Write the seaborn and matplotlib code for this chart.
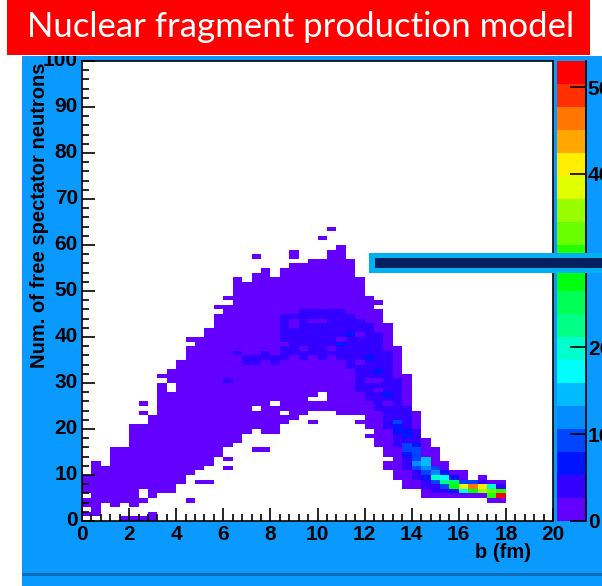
import colorsys

import matplotlib
matplotlib.use("Agg")
import matplotlib.pyplot as plt
import matplotlib.patches as mpatches
from matplotlib.lines import Line2D
from matplotlib.colors import ListedColormap, BoundaryNorm
from matplotlib.colorbar import ColorbarBase
import numpy as np
import pandas as pd
import seaborn as sns

# ---------------------------------------------------------------- data
# 2D histogram: impact parameter b (50 bins, 0-20 fm) vs number of free
# spectator neutrons (100 bins, 0-100).  Column index c <-> b bin, row j <-> N bin.
B_EDGES = np.linspace(0.0, 20.0, 51)
N_EDGES = np.arange(0, 101)

# populated band per b column (lowest / highest filled N bin), columns 0..44
band_lo = [2, 2, 3, 3, 3, 3, 4, 5, 6, 6, 8, 10, 11, 12, 14, 16, 17, 19, 20, 19,
           19, 21, 22, 23, 24, 24, 24, 23, 23, 21, 18, 16, 12, 9, 7, 7, 5, 5, 5, 5,
           5, 5, 5, 4, 4]
band_hi = [9, 12, 11, 15, 15, 20, 20, 22, 29, 31, 34, 37, 39, 41, 44, 48, 51, 51, 53, 54,
           52, 54, 55, 55, 56, 56, 58, 59, 56, 52, 48, 45, 42, 37, 31, 23, 17, 15, 12, 10,
           10, 8, 9, 8, 8]

# denser core (3 counts), columns 15..39
core_first_col = 15
core_lo = [30, 36, 34, 34, 35, 34, 35, 36, 35, 36, 35, 36, 35, 33, 28, 26, 24, 20, 16, 11,
           9, 7, 6, 6, 6]
core_hi = [30, 36, 35, 35, 36, 35, 44, 44, 45, 45, 45, 45, 45, 44, 43, 42, 40, 36, 30, 24,
           19, 13, 11, 10, 9]
core_gaps = [(22, 42), (22, 43), (24, 43), (25, 43), (27, 39), (21, 38), (23, 37),
             (26, 37), (29, 34), (30, 30), (31, 30), (31, 28), (32, 25), (29, 40)]

# single-count cells outside the band, and empty cells inside it
extra_cells = [(1, 12), (6, 23), (6, 25), (8, 31), (9, 32), (11, 39), (14, 46), (16, 52),
               (18, 57), (22, 57), (22, 58), (25, 61), (26, 63), (15, 13), (15, 11),
               (18, 15), (19, 15), (24, 21), (31, 47), (32, 11), (0, 1), (1, 1), (4, 0),
               (5, 0), (6, 0), (7, 0), (7, 1), (11, 4), (12, 8), (13, 8)]
empty_cells = [(0, 5), (0, 2), (6, 5), (6, 6), (9, 28), (9, 29), (24, 26), (25, 26),
               (25, 27), (20, 25), (21, 23), (18, 24), (2, 3), (4, 3), (15, 47),
               (29, 22), (30, 19), (32, 13)]

# high-count cells along the peripheral ridge (column, row, counts)
hot_cells = [
    (27, 38, 6), (28, 40, 6), (30, 35, 6), (32, 27, 6), (31, 32, 6),
    (33, 21, 9), (33, 20, 7), (33, 19, 6), (34, 19, 7), (34, 18, 6),
    (34, 16, 8), (34, 15, 9), (35, 15, 10), (35, 14, 9), (35, 16, 7), (34, 14, 7),
    (35, 13, 10), (35, 12, 11), (35, 11, 9), (36, 13, 14), (36, 12, 15), (36, 11, 12),
    (36, 10, 9), (36, 9, 6),
    (37, 11, 8), (37, 10, 11), (37, 9, 20), (37, 8, 8),
    (38, 10, 6), (38, 9, 18), (38, 8, 22), (38, 7, 8),
    (39, 9, 7), (39, 8, 24), (39, 7, 27), (39, 6, 6),
    (40, 8, 9), (40, 7, 38), (40, 6, 17),
    (41, 8, 8), (41, 7, 46), (41, 6, 28),
    (42, 8, 4), (42, 7, 41), (42, 6, 35),
    (43, 7, 19), (43, 6, 33), (43, 5, 30),
    (44, 7, 4), (44, 6, 31), (44, 5, 53),
]

Z_MAX = 53.0
N_LEVELS = 20
x_tick_values = [0, 2, 4, 6, 8, 10, 12, 14, 16, 18, 20]
y_tick_values = [0, 10, 20, 30, 40, 50, 60, 70, 80, 90, 100]
z_tick_values = [0, 10, 20, 30, 40, 50]

# ---------------------------------------------------------------- histogram table
counts = np.zeros((len(N_EDGES) - 1, len(B_EDGES) - 1))
for c, (lo, hi) in enumerate(zip(band_lo, band_hi)):
    counts[lo:hi + 1, c] = 1
for i, (lo, hi) in enumerate(zip(core_lo, core_hi)):
    counts[lo:hi + 1, core_first_col + i] = 3
for c, j in core_gaps + extra_cells:
    counts[j, c] = 1
for c, j in empty_cells:
    counts[j, c] = 0
for c, j, v in hot_cells:
    counts[j, c] = v

b_centers = 0.5 * (B_EDGES[:-1] + B_EDGES[1:])
hist = pd.DataFrame(counts, index=N_EDGES[:-1], columns=np.round(b_centers, 2))

# ---------------------------------------------------------------- colours
def pretty_palette_level(k, ncolors=50, nlevels=N_LEVELS):
    idx = int((k + 0.99) * ncolors / nlevels)
    hue = 280.0 - (idx + 1) * 280.0 / ncolors
    return colorsys.hls_to_rgb(hue / 360.0, 0.5, 1.0)

level_colors = [pretty_palette_level(k) for k in range(N_LEVELS)]
cmap = ListedColormap(level_colors)
levels = np.linspace(0.0, Z_MAX, N_LEVELS + 1)
norm = BoundaryNorm(levels, cmap.N)

BG_BLUE = "#0a9aff"
W, H = 602, 586

def fx(px):
    return px / W

def fy(py):
    return 1.0 - py / H

plt.rcParams["font.family"] = ["Liberation Sans", "DejaVu Sans"]
plt.rcParams["font.weight"] = "bold"

fig = plt.figure(figsize=(W / 100, H / 100), dpi=100)
fig.patch.set_facecolor(BG_BLUE)

# slide decorations behind the canvas
fig.add_artist(mpatches.Rectangle((0, 0), fx(22), 1, transform=fig.transFigure,
                                  facecolor="white", edgecolor="none", zorder=-5))
fig.add_artist(mpatches.Rectangle((fx(590), fy(56)), 1, 1, transform=fig.transFigure,
                                  facecolor="white", edgecolor="none", zorder=-5))
fig.add_artist(mpatches.Rectangle((fx(22), fy(576)), 1, 3 / H, transform=fig.transFigure,
                                  facecolor="#0b6db8", edgecolor="none", zorder=-4))

# ---------------------------------------------------------------- main pad
ax = fig.add_axes([fx(82), fy(521), fx(553) - fx(82), fy(61) - fy(521)])
ax.set_facecolor("white")
sns.heatmap(hist, ax=ax, cmap=cmap, norm=norm, mask=(hist.values == 0),
            cbar=False, linewidths=0, rasterized=True)
ax.set_xlim(0, len(b_centers))
ax.set_ylim(0, len(N_EDGES) - 1)

bin_w = B_EDGES[1] - B_EDGES[0]
ax.set_xticks([v / bin_w for v in x_tick_values])
ax.set_xticklabels([str(v) for v in x_tick_values], rotation=0)
ax.set_xticks(np.arange(0, len(b_centers) + 1, 1), minor=True)
ax.set_yticks(y_tick_values)
ax.set_yticklabels([str(v) for v in y_tick_values], rotation=0)
ax.set_yticks(np.arange(0, 101, 2), minor=True)
ax.set_xlabel("")
ax.set_ylabel("")

for side in ["left", "bottom", "top", "right"]:
    ax.spines[side].set_visible(True)
    ax.spines[side].set_color("black")
    ax.spines[side].set_linewidth(1.2)

ax.tick_params(axis="both", which="major", direction="in", length=9.5, width=1.2,
               color="black", labelsize=15, pad=3)
ax.tick_params(axis="both", which="minor", direction="in", length=5, width=1.2,
               color="black")
ax.tick_params(axis="both", top=False, right=False, which="both")
for lab in ax.get_xticklabels() + ax.get_yticklabels():
    lab.set_fontweight("bold")

fig.text(fx(40), fy(63), "Num. of free spectator neutrons", rotation=90,
         ha="center", va="top", fontsize=14.5, fontweight="bold", color="black")
fig.text(fx(531), fy(552), "b (fm)", ha="right", va="center",
         fontsize=14.5, fontweight="bold", color="black")

# ---------------------------------------------------------------- colour palette axis
cax = fig.add_axes([fx(557), fy(521), fx(585) - fx(557), fy(61) - fy(521)])
cb = ColorbarBase(cax, cmap=cmap, norm=norm, boundaries=levels,
                  ticks=z_tick_values, orientation="vertical")
cb.outline.set_visible(False)
cax.yaxis.set_ticks_position("right")
cax.tick_params(axis="y", which="major", direction="in", length=11, width=1.2,
                color="black", labelsize=15, pad=2)
cax.minorticks_off()
cax.set_yticklabels([str(v) for v in z_tick_values], fontweight="bold")
fig.add_artist(Line2D([fx(585.5), fx(585.5)], [fy(521), fy(61)], transform=fig.transFigure,
                      color="black", lw=1.2, zorder=5))

# ---------------------------------------------------------------- slide overlays
fig.add_artist(mpatches.Rectangle((fx(0), fy(56)), fx(590), fy(0) - fy(56),
                                  transform=fig.transFigure, facecolor="white",
                                  edgecolor="none", zorder=9))
fig.add_artist(mpatches.Rectangle((fx(7), fy(55)), fx(590) - fx(7), fy(0) - fy(55),
                                  transform=fig.transFigure, facecolor="#ff0000",
                                  edgecolor="none", zorder=10))
fig.text(fx(301), fy(27), "Nuclear fragment production model", ha="center", va="center",
         fontsize=25, fontweight="normal", color="white", family=["Lato", "DejaVu Sans"],
         zorder=11)

fig.add_artist(mpatches.Rectangle((fx(369), fy(273)), 1, 20 / H, transform=fig.transFigure,
                                  facecolor="#00b0f0", edgecolor="none", zorder=10))
fig.add_artist(mpatches.Rectangle((fx(375), fy(268)), 1, 10 / H, transform=fig.transFigure,
                                  facecolor="#002060", edgecolor="none", zorder=11))

fig.savefig("out.png", dpi=100, facecolor=fig.get_facecolor())
